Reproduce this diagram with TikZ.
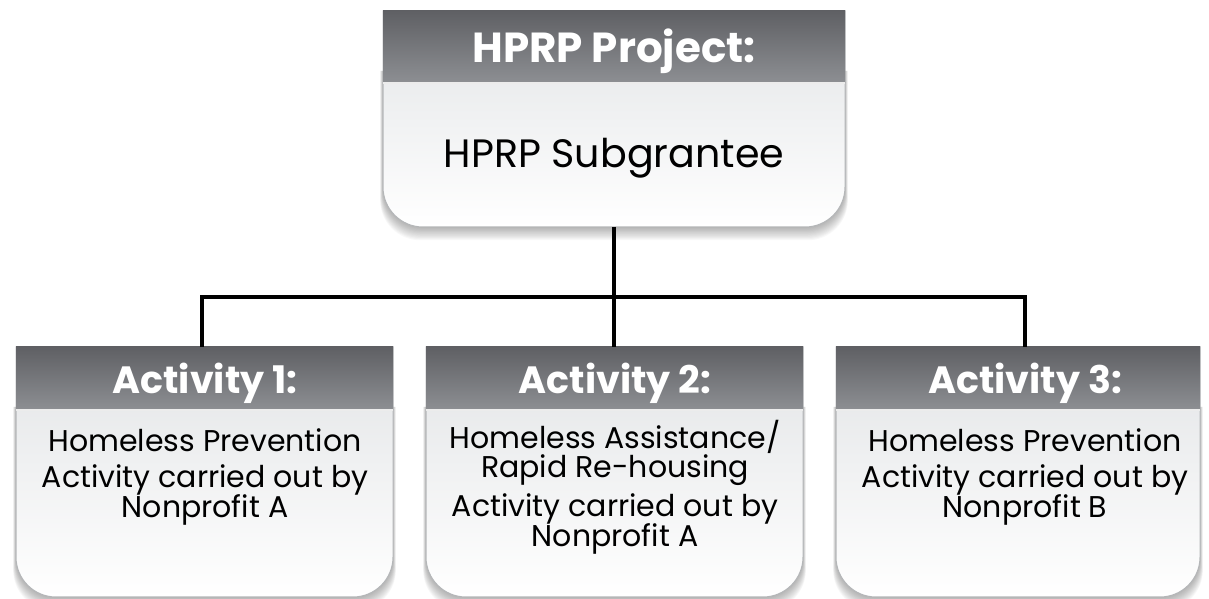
\documentclass[tikz,border=0pt]{standalone}
\usepackage{fontspec}
\setmainfont{Poppins}
\usetikzlibrary{calc}
\definecolor{hdtop}{HTML}{5F6064}
\definecolor{hdbot}{HTML}{8D8F93}
\definecolor{bodytop}{HTML}{E2E4E6}
\definecolor{edgegray}{HTML}{B4B6B8}

% card outline: square top, rounded bottom corners; #1 node, #2 header height (px)
\newcommand\cardshape[2]{%
  \foreach \k in {1,...,12}{%
    \fill[black,opacity=0.028] let \p1=(#1.north west), \p2=(#1.south east) in
      (\x1-\k*0.12pt,\y1-30pt) -- (\x2+\k*0.12pt,\y1-30pt)
      -- (\x2+\k*0.12pt,\y2+20pt-\k*0.55pt)
      arc[start angle=0,end angle=-90,radius=20pt]
      -- (\x1-\k*0.12pt+20pt,\y2-\k*0.55pt)
      arc[start angle=270,end angle=180,radius=20pt] -- cycle;
  }%
  \shade[top color=bodytop,bottom color=white,draw=edgegray,line width=0.5pt]
    let \p1=(#1.north west), \p2=(#1.south east) in
      (\x1,\y1) -- (\x2,\y1) -- (\x2,\y2+20pt)
      arc[start angle=0,end angle=-90,radius=20pt]
      -- (\x1+20pt,\y2)
      arc[start angle=270,end angle=180,radius=20pt] -- cycle;
  \shade[top color=hdtop,bottom color=hdbot]
    let \p1=(#1.north west), \p2=(#1.north east) in
      (\x1,\y1) rectangle (\x2,\y1-#2*0.5pt);
  \draw[white!85!gray,line width=0.6pt]
    let \p1=(#1.north west), \p2=(#1.north east) in
      (\x1,\y1-#2*0.5pt) -- (\x2,\y1-#2*0.5pt);
}

\tikzset{
  card/.style={rectangle,inner sep=0pt,outer sep=0pt},
  hdtext/.style={anchor=base,inner sep=0pt,text=white,font=\fontsize{21}{24}\selectfont\bfseries},
  acthd/.style={anchor=base,inner sep=0pt,text=white,font=\fontsize{19}{22}\selectfont\bfseries},
  maintext/.style={anchor=base,inner sep=0pt,text=black,font=\fontsize{19.8}{23}\selectfont},
  bodytext/.style={anchor=base,inner sep=0pt,text=black,font=\fontsize{15}{13}\selectfont,align=center},
  link/.style={line width=2pt,black,line join=miter}
}

\begin{document}
\begin{tikzpicture}[x=0.5pt,y=0.5pt]
\useasboundingbox (0,0) rectangle (1209,599);

% boxes (pixel grid, y measured upward)
\node[card,minimum width=231pt,minimum height=108pt] (top) at (614,480) {};
\node[card,minimum width=188.5pt,minimum height=125pt] (a1) at (204.5,127) {};
\node[card,minimum width=188.5pt,minimum height=125pt] (a2) at (614.5,127) {};
\node[card,minimum width=182pt,minimum height=125pt] (a3) at (1018,127) {};

\cardshape{top}{72}
\cardshape{a1}{63}
\cardshape{a2}{63}
\cardshape{a3}{63}

% headings
\node[hdtext] (tophd) at (614,536) {HPRP Project:};
\node[maintext] (topbody) at (614,431) {HPRP Subgrantee};
\node[acthd] (h1) at (205,205) {Activity 1:};
\node[acthd] (h2) at (615,205) {Activity 2:};
\node[acthd] (h3) at (1025,205) {Activity 3:};

% activity descriptions (base anchor sits on the last line)
\node[bodytext] (t11) at (205,147) {Homeless Prevention};
\node[bodytext] (t12) at (205,111) {Activity carried out by};
\node[bodytext] (t13) at (205,81) {Nonprofit A};

\node[bodytext] (t21) at (615,121) {Homeless Assistance/\\Rapid Re-housing};
\node[bodytext] (t23) at (615,82) {Activity carried out by};
\node[bodytext] (t24) at (615,52) {Nonprofit A};

\node[bodytext] (t31) at (1025,147) {Homeless Prevention};
\node[bodytext] (t32) at (1025,111) {Activity carried out by};
\node[bodytext] (t33) at (1025,81) {Nonprofit B};

% connectors
\coordinate (bus1) at (202,302);
\coordinate (bus3) at (1025,302);
\draw[link] (top.south) -- (top.south |- a2.north);
\draw[link] (bus1 |- a1.north) -- (bus1) -- (bus3) -- (bus3 |- a3.north);
\end{tikzpicture}
\end{document}
